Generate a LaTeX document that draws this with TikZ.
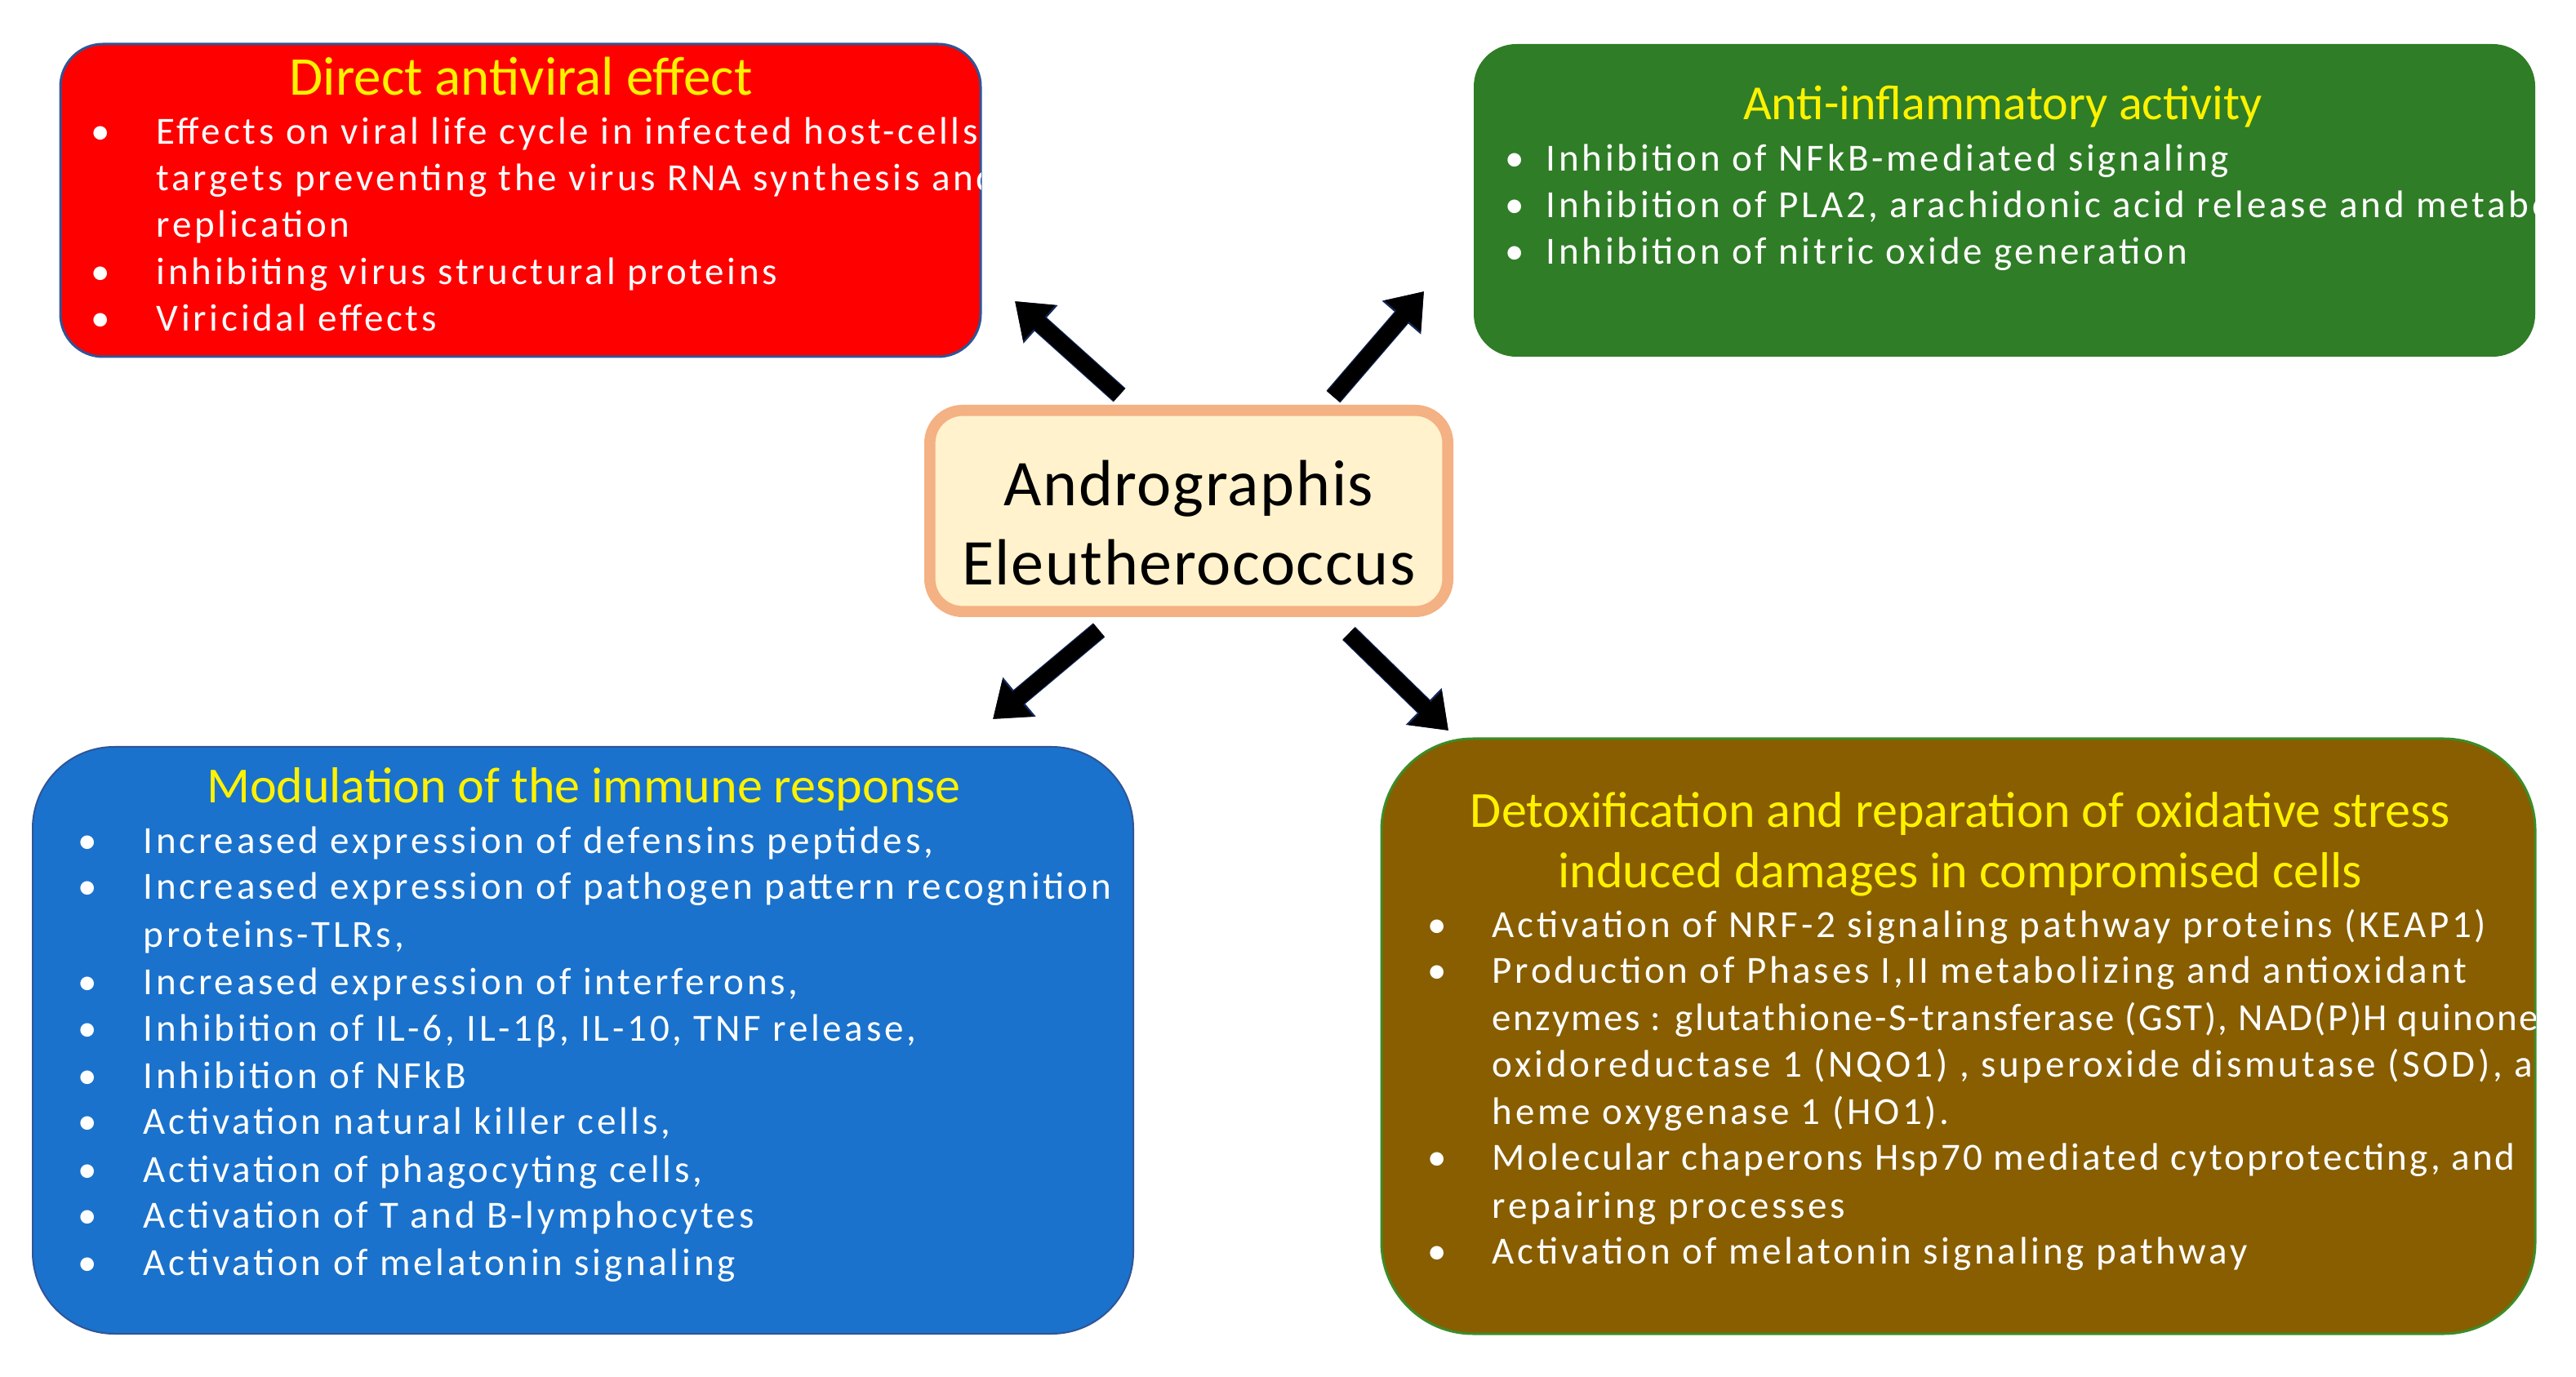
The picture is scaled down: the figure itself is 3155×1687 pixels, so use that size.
\documentclass[tikz,border=0pt]{standalone}
\usepackage{fontspec}
\setmainfont{Carlito}
\newfontfamily\bodyfont{Carlito}[LetterSpace=8]
\newfontfamily\bodytight{Carlito}[LetterSpace=5]
\newfontfamily\bodysnug{Carlito}[LetterSpace=6.5]
\newfontfamily\ctrfont{Carlito}[LetterSpace=2]
\usetikzlibrary{arrows.meta}
\definecolor{redfill}{RGB}{255,0,0}
\definecolor{edgeblue}{RGB}{47,85,151}
\definecolor{greenfill}{RGB}{47,125,38}
\definecolor{bluefill}{RGB}{26,114,204}
\definecolor{brownfill}{RGB}{136,94,0}
\definecolor{browned}{RGB}{60,140,40}
\definecolor{ctrfill}{RGB}{255,242,204}
\definecolor{ctredge}{RGB}{244,177,131}
\definecolor{arrowedge}{RGB}{20,40,90}
\begin{document}
\begin{tikzpicture}[x=0.25pt,y=-0.25pt,
  body/.style={font=\bodyfont\fontsize{11.75pt}{14pt}\selectfont, text=white, inner sep=0pt, anchor=base west},
  dot/.style={font=\bodyfont\fontsize{11.75pt}{14pt}\selectfont, text=white, inner sep=0pt, anchor=base},
  ttl/.style={font=\fontsize{#1}{#1}\selectfont, text=yellow, inner sep=0pt, anchor=base},
  panel/.style={rounded corners=#1, inner sep=0pt, outer sep=0pt},
  ctrtext/.style={font=\ctrfont\fontsize{20pt}{24pt}\selectfont, text=black, inner sep=0pt, anchor=base},
  bigarrow/.style={line width=5pt, -{Triangle[width=14pt,length=10pt]}, black,
    preaction={draw=arrowedge, line width=5.6pt, -{Triangle[width=15pt,length=10.6pt]}}}
]
\fill[white] (0,0) rectangle (3155,1687);
\useasboundingbox (0,0) rectangle (3155,1687);

% ---------- panels ----------
\node[panel=13pt, fill=redfill, draw=edgeblue, line width=0.75pt,
  minimum width=281.75pt, minimum height=95.75pt] (red) at (637.5,245.5) {};
\node[panel=13pt, fill=greenfill,
  minimum width=325pt, minimum height=95.75pt] (green) at (2455,245.5) {};
\node[panel=25pt, fill=bluefill, draw=edgeblue, line width=0.5pt,
  minimum width=337pt, minimum height=179.75pt] (blue) at (714,1274.5) {};
\node[panel=28pt, fill=brownfill, draw=browned, line width=0.75pt,
  minimum width=353.25pt, minimum height=182.25pt] (brown) at (2398.5,1269.5) {};
\node[panel=10pt, fill=ctrfill, draw=ctredge, line width=3.4pt,
  minimum width=158.6pt, minimum height=61.6pt] (ctr) at (1456,626) {};

% ---------- centre text ----------
\node[ctrtext] (ctr1) at (1456,620) {Andrographis};
\node[ctrtext] (ctr2) at (1456,717) {Eleutherococcus};

% ---------- arrows ----------
\coordinate (t1) at (1371,484); \coordinate (h1) at (1243,369);
\coordinate (t2) at (1633,486); \coordinate (h2) at (1744,357);
\coordinate (t3) at (1346,772); \coordinate (h3) at (1216,881);
\coordinate (t4) at (1652,776); \coordinate (h4) at (1774,895);
\draw[bigarrow] (t1) -- (h1);
\draw[bigarrow] (t2) -- (h2);
\draw[bigarrow] (t3) -- (h3);
\draw[bigarrow] (t4) -- (h4);

% ---------- red panel text ----------
\begin{scope}
\clip[rounded corners=13pt] (red.south west) rectangle (red.north east);
\node[ttl=16.75pt] (rt) at (638,117) {Direct antiviral effect};
\node[dot] (rb1) at (123,177) {•};
\node[body] (r1) at (191,177) {Effects on viral life cycle in infected host-cells};
\node[body] (r2) at (191,234) {targets preventing the virus RNA synthesis and};
\node[body] (r3) at (191,291) {replication};
\node[dot] (rb2) at (123,349) {•};
\node[body] (r4) at (191,349) {inhibiting virus structural proteins};
\node[dot] (rb3) at (123,406) {•};
\node[body] (r5) at (191,406) {Viricidal effects};
\end{scope}

% ---------- green panel text ----------
\begin{scope}
\clip[rounded corners=13pt] (green.south west) rectangle (green.north east);
\node[ttl=15pt] (gt) at (2453,147) {Anti-inflammatory activity};
\node[dot] (gb1) at (1855,210) {•};
\node[body] (g1) at (1893,210) {Inhibition of NFkB-mediated signaling};
\node[dot] (gb2) at (1855,267) {•};
\node[body] (g2) at (1893,267) {Inhibition of PLA2, arachidonic acid release and metabolism};
\node[dot] (gb3) at (1855,324) {•};
\node[body] (g3) at (1893,324) {Inhibition of nitric oxide generation};
\end{scope}

% ---------- blue panel text ----------
\begin{scope}
\clip[rounded corners=25pt] (blue.south west) rectangle (blue.north east);
\node[ttl=15.5pt] (bt) at (715,983) {Modulation of the immune response};
\node[dot] (bb1) at (107,1045) {•};
\node[body] (b1) at (175,1045) {Increased expression of defensins peptides,};
\node[dot] (bb2) at (107,1101) {•};
\node[body] (b2) at (175,1101) {Increased expression of pathogen pattern recognition};
\node[body] (b3) at (175,1160) {proteins-TLRs,};
\node[dot] (bb4) at (107,1218) {•};
\node[body] (b4) at (175,1218) {Increased expression of interferons,};
\node[dot] (bb5) at (107,1275) {•};
\node[body] (b5) at (175,1275) {Inhibition of IL-6, IL-1β, IL-10, TNF release,};
\node[dot] (bb6) at (107,1333) {•};
\node[body] (b6) at (175,1333) {Inhibition of NFkB};
\node[dot] (bb7) at (107,1389) {•};
\node[body] (b7) at (175,1389) {Activation natural killer cells,};
\node[dot] (bb8) at (107,1448) {•};
\node[body] (b8) at (175,1448) {Activation of phagocyting cells,};
\node[dot] (bb9) at (107,1504) {•};
\node[body] (b9) at (175,1504) {Activation of T and B-lymphocytes};
\node[dot] (bb10) at (107,1562) {•};
\node[body] (b10) at (175,1562) {Activation of melatonin signaling};
\end{scope}

% ---------- brown panel text ----------
\begin{scope}
\clip[rounded corners=28pt] (brown.south west) rectangle (brown.north east);
\node[ttl=15.5pt] (wt1) at (2401,1013) {Detoxification and reparation of oxidative stress};
\node[ttl=15.5pt] (wt2) at (2401,1087) {induced damages in compromised cells};
\node[dot] (wb1) at (1760,1148) {•};
\node[body] (w1) at (1827,1148) {Activation of NRF-2 signaling pathway proteins (KEAP1)};
\node[dot] (wb2) at (1760,1204) {•};
\node[body] (w2) at (1827,1204) {Production of Phases I,II metabolizing and antioxidant};
\node[body, font=\bodytight\fontsize{11.75pt}{14pt}\selectfont] (w3) at (1827,1262) {enzymes : glutathione-S-transferase (GST), NAD(P)H quinone};
\node[body] (w4) at (1827,1319) {oxidoreductase 1 (NQO1) , superoxide dismutase (SOD), and};
\node[body] (w5) at (1827,1377) {heme oxygenase 1 (HO1).};
\node[dot] (wb6) at (1760,1433) {•};
\node[body, font=\bodysnug\fontsize{11.75pt}{14pt}\selectfont] (w6) at (1827,1433) {Molecular chaperons Hsp70 mediated cytoprotecting, and};
\node[body] (w7) at (1827,1492) {repairing processes};
\node[dot] (wb8) at (1760,1548) {•};
\node[body] (w8) at (1827,1548) {Activation of melatonin signaling pathway};
\end{scope}
\end{tikzpicture}
\end{document}
